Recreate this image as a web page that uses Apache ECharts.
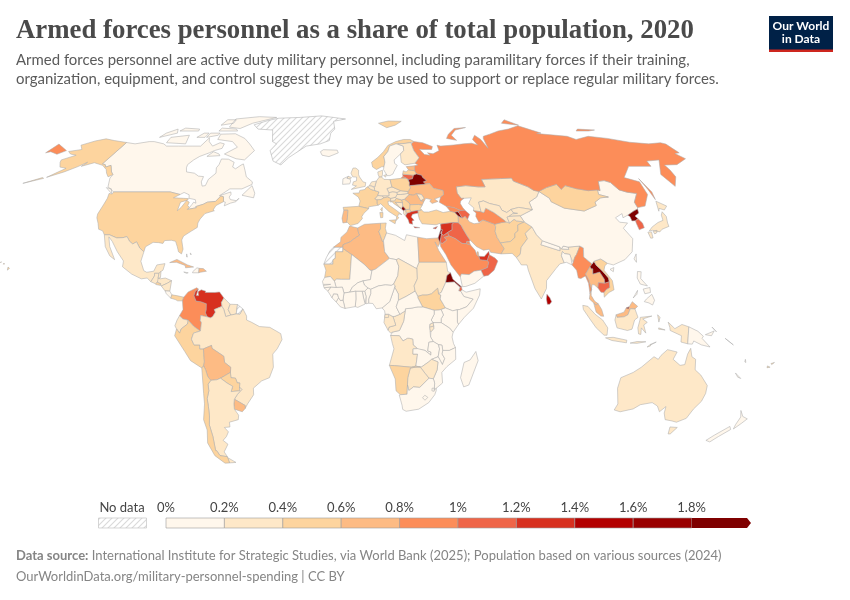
<!DOCTYPE html>
<html>
<head>
<meta charset="utf-8">
<title>Armed forces personnel as a share of total population, 2020</title>
<script src="https://cdn.jsdelivr.net/npm/echarts@6/dist/echarts.min.js"></script>
<style>
  html, body { margin: 0; padding: 0; background: #fff; }
  #chart { width: 850px; height: 600px; }
</style>
</head>
<body>
<div id="chart"></div>
<script>
'use strict';

// share of population in armed forces, %
const countries = [
  'Canada','USA','Mexico','Guatemala','Belize','El Salvador','Honduras','Nicaragua','Costa Rica','Panama',
  'Cuba','Jamaica','Haiti','Dominican Rep.','Bahamas',
  'Colombia','Venezuela','Guyana','Suriname','Ecuador','Peru','Brazil','Bolivia','Paraguay','Uruguay','Argentina','Chile',
  'Morocco','Mauritania','Algeria','Tunisia','Libya','Egypt','Mali','Niger','Chad','Sudan','South Sudan','Eritrea','Djibouti',
  'Ethiopia','Somalia','Kenya','Uganda','Tanzania','Rwanda','Burundi','DR Congo','Congo','Gabon','Eq. Guinea','Cameroon','CAR',
  'Nigeria','Benin','Togo','Ghana','Burkina Faso','Ivory Coast','Liberia','Sierra Leone','Guinea','Guinea-Bissau','Senegal','Gambia',
  'Angola','Zambia','Malawi','Mozambique','Zimbabwe','Botswana','Namibia','South Africa','Lesotho','Eswatini','Madagascar',
  'Turkey','Syria','Lebanon','Israel','Jordan','Iraq','Kuwait','Saudi Arabia','Qatar','UAE','Oman','Yemen','Iran',
  'Afghanistan','Pakistan','India','Nepal','Bhutan','Bangladesh','Sri Lanka','Myanmar','Thailand','Laos','Vietnam','Cambodia',
  'Malaysia','Brunei','Indonesia','Timor-Leste','Papua New Guinea','Philippines','Taiwan','China','Mongolia',
  'Kazakhstan','Turkmenistan','Uzbekistan','Kyrgyzstan','Tajikistan','Russia','Ukraine','Moldova','Romania','Bulgaria','Greece',
  'Albania','North Macedonia','Serbia','Montenegro','Bosnia','Croatia','Slovenia','Hungary','Slovakia','Czechia','Austria','Switzerland',
  'Italy','France','Spain','Portugal','UK','Ireland','Iceland','Norway','Sweden','Finland','Denmark','Germany','Netherlands','Belgium',
  'Poland','Lithuania','Latvia','Estonia','Belarus','Georgia','Armenia','Azerbaijan','Cyprus','North Korea','South Korea','Japan',
  'Australia','New Zealand','New Caledonia','Solomon Islands','Vanuatu','Fiji'
];
const shareValues = [
  0.18,0.42,0.27,0.25,0.3,0.5,0.3,0.22,0.15,0.5,
  0.7,0.12,0.1,0.6,0.15,
  0.9,1.3,0.3,0.28,0.25,0.5,0.33,0.7,0.45,0.7,0.25,0.45,
  0.68,0.5,0.75,0.55,0.12,0.72,0.1,0.1,0.28,0.3,0.5,1.95,1.1,
  0.12,0.1,0.06,0.1,0.06,0.25,0.25,0.15,0.25,0.3,0.25,0.1,0.05,
  0.06,0.08,0.15,0.05,0.05,0.1,0.05,0.12,0.1,0.15,0.1,0.05,
  0.3,0.1,0.05,0.04,0.3,0.3,0.5,0.12,0.1,0.1,0.08,
  0.55,1.3,1.9,1.9,1.1,1.15,0.9,0.9,0.7,1.2,1.1,0.15,0.75,
  0.5,0.45,0.25,0.15,0.15,0.15,1.5,0.9,0.7,1.9,0.52,1.1,
  0.65,1.7,0.25,0.15,0.05,0.15,0.15,0.14,0.45,
  0.3,0.9,0.25,0.3,0.25,0.95,0.65,0.2,0.65,0.5,1.3,
  0.3,0.4,0.45,1.9,0.3,0.4,0.35,0.35,0.3,0.25,0.28,0.3,
  0.55,0.5,0.5,0.65,0.22,0.18,0.15,0.45,0.15,0.38,0.3,0.25,0.25,0.3,
  0.5,1.05,0.42,0.7,1.9,0.9,1.9,1.1,1.35,1.95,1.1,0.2,
  0.25,0.15,0.1,0.1,0.1,0.45
];

// colour bins of the legend
const binLower = [0, 0.2, 0.4, 0.6, 0.8, 1, 1.2, 1.4, 1.6, 1.8];
const binUpper = [0.2, 0.4, 0.6, 0.8, 1, 1.2, 1.4, 1.6, 1.8, 2];
const binColors = ['#fff7ec','#fee8c8','#fdd49e','#fdbb84','#fc8d59','#ef6548','#d7301f','#b30000','#990000','#7f0000'];

// simplified country outlines, lon,lat
const outlines = {
  'Canada': ['-141,69.6 -135,69 -128,70 -125,70 -118,69 -115,68 -108,68 -100,68 -95,68 -94,71.8 -92,70 -88,68 -85,69.5 -82,69 -81.5,67 -85,66 -87,65 -91,63.5 -93,62 -94.5,60 -94,58.7 -92.5,57 -88,56.5 -85,55.3 -82.2,55.1 -82,53 -80.5,51.3 -79,51.5 -79,54 -76.7,56.5 -78,58.7 -77.5,60 -78,62.4 -74,62.3 -70,61 -69.5,59 -67.5,58.3 -65.5,59.8 -64.5,60.3 -62,57.5 -60,55 -56,53 -55.7,52 -60,50.2 -66,50.2 -70,47.5 -65,49 -64.5,48 -65,47 -64,46 -61,45.6 -60,46.5 -61,45.2 -63.5,44.6 -66,43.6 -66,45 -67,45.2 -67.8,47.1 -69.2,47.4 -70.9,45.3 -74.7,45 -76.3,44.2 -79.5,43.3 -79,42.85 -83,42.2 -82.3,43 -81.7,44.1 -81.3,45 -80,44.6 -81,46 -84.3,46.5 -85,47.9 -88,48.8 -89.5,48 -95,49 -123,49 -125,50 -127.5,51 -130,54.5 -130,55.9 -132,57 -135.5,59.7 -137.5,59 -139,60 -141,60.3',
    '-62,66 -65,62 -70,62.5 -78,64.5 -73,67.5 -78,70 -88,71 -89,73.5 -80,73.7 -72,71.5 -67,69',
    '-105,69 -117,69.5 -118,72 -108,73','-125,72 -117,74 -120,76 -124,74','-62,82.5 -75,83 -90,81.5 -88,77 -80,76.3 -75,79',
    '-80,75 -92,75 -92,76.5 -82,76','-90,73 -96,72 -96,74 -90,74','-59,47.7 -53,46.7 -53,48.5 -55.5,51.5','-123.5,48.4 -128,50.7 -125,50.2',
    '-80,63.8 -87,63.5 -85,65.5 -81,64.5','-88,79 -95,78 -95,81 -89,81','-105,75 -117,75 -116,76.5 -106,76','-97,72 -102,72 -100,74 -97,74'],
  'USA': ['-123,49 -95,49 -89.5,48 -92,46.7 -87,46.5 -84.5,46.4 -84.7,45.8 -87.6,45 -87.5,41.7 -86.3,43 -85,45.7 -83.4,45 -83.5,43.7 -82.5,43 -83,42.2 -79,42.85 -79.5,43.3 -76.3,44.2 -74.7,45 -70.9,45.3 -69.2,47.4 -67.8,47.1 -67,45.2 -70,43.7 -70.7,42 -70,41.7 -74,40.6 -75.5,38.5 -76,37 -75.7,35.3 -78,33.9 -81,32 -81.4,30.5 -80,27 -80.3,25.2 -81.8,26 -82.8,28 -84,30 -86,30.4 -89,30.3 -89.5,29.2 -91.5,29.5 -94,29.6 -97,27.9 -97.2,26 -99.5,27.5 -101.5,29.8 -103,29 -104.7,30 -106.5,31.8 -108.2,31.4 -111,31.3 -114.8,32.5 -117.1,32.5 -118.5,34 -120.6,34.6 -122,36.8 -123.8,39 -124.3,40.4 -124,44 -124,46.5 -124.7,48.4 -123,48.2',
    '-141,69.6 -141,60.3 -139,60 -137.5,59 -135.5,59.7 -132,57 -130,55.9 -131.5,55 -134,56.5 -136,58 -140,59.7 -146,60.8 -151,59.3 -150,61 -153,59 -157,57 -163,54.8 -158,58.5 -162,59 -165,61 -166,62 -161,64 -165,64.5 -168,65.6 -162,66.5 -166,68.4 -161,70.3 -156.5,71.3 -150,70.5',
    '-164,54.4 -172,52.4 -165,54.7','-155.8,19 -155,19.7 -155.8,20.2','-159.7,22 -159.3,22.2 -159.4,21.8','-158,21.7 -157.7,21.3 -158.2,21.3'],
  'Mexico': ['-117.1,32.5 -114.8,32.5 -111,31.3 -108.2,31.4 -106.5,31.8 -104.7,30 -103,29 -101.5,29.8 -99.5,27.5 -97.2,26 -97.8,22.4 -95.9,18.8 -94.5,18.2 -91.5,18.6 -90.5,21 -87,21.5 -87.5,19 -88.3,18.5 -89.1,17.8 -91,17.8 -90.9,16.8 -92.2,14.6 -94,16 -96.5,15.7 -101,17.5 -105.5,20.3 -105.5,22.5 -109,26 -112.5,30 -114.7,31.7 -113,28 -109.5,23 -112,24.5 -115,28'],
  'Guatemala': ['-92.2,14.6 -90.9,16.8 -91,17.8 -89.1,17.8 -89.2,15.9 -88.3,15.7 -89.3,14.4 -90.1,13.8'],
  'Belize': ['-89.1,17.8 -88.3,18.5 -88.2,16.2 -89.2,15.9'],
  'El Salvador': ['-90.1,13.8 -89.3,14.4 -87.8,13.9 -87.8,13.2 -89.8,13.5'],
  'Honduras': ['-89.2,15.9 -88.3,15.7 -86,16 -83.2,15 -85,14 -87.3,13 -87.8,13.4 -87.8,13.9 -89.3,14.4'],
  'Nicaragua': ['-83.2,15 -83.6,11 -85.7,11.1 -87.5,13 -85,14'],
  'Costa Rica': ['-85.7,11.1 -83.6,11 -82.6,9.6 -83,8.3 -85,10'],
  'Panama': ['-83,8.3 -82.6,9.6 -80,9.2 -77.4,8.7 -77.9,7.3 -80,7.3 -81,7.8'],
  'Cuba': ['-85,21.9 -82,23.1 -77,21 -74.2,20.2 -77.7,19.9 -78,20.8 -82,22'],
  'Jamaica': ['-78.3,18.3 -76.3,18 -77,17.8'],
  'Haiti': ['-74.4,18.4 -72.7,19.9 -71.7,19.7 -71.7,18 -74.4,18'],
  'Dominican Rep.': ['-71.7,19.7 -69.9,19.6 -68.4,18.6 -71,18.2 -71.7,18'],
  'Bahamas': ['-78,25.2 -77.5,24 -77.9,24.1','-76.5,25.5 -76,24.8 -76.2,25.4'],
  'Colombia': ['-77.4,8.7 -75.6,10.7 -72,12.3 -71.3,11.8 -72.5,11 -73,9.2 -72,7.2 -70,7 -67.5,6.2 -67.5,3.8 -67.8,2.8 -67,1.2 -69.8,1.7 -70,-0.2 -69.5,-1 -70,-4.2 -70.7,-3.8 -72.9,-2.4 -75.2,-0.1 -77.5,0.4 -79,1.6 -77.5,4 -77.9,7.3'],
  'Venezuela': ['-71.3,11.8 -71.6,10.8 -72,9.3 -71,9.3 -71.3,10.8 -70,11.5 -68,11 -68.2,10.5 -64,10.5 -62,10.7 -60,8.4 -61,6.7 -60.7,5.2 -64,4 -63.5,3 -64.7,1.2 -65.7,0.8 -67,1.2 -67.8,2.8 -67.5,3.8 -67.5,6.2 -70,7 -72,7.2 -73,9.2 -72.5,11'],
  'Guyana': ['-60,8.4 -57.2,6 -58,4 -56.8,1.9 -59,1.3 -59.9,4 -60.7,5.2 -61,6.7'],
  'Suriname': ['-57.2,6 -54,5.9 -54.5,2.3 -56.8,1.9 -58,4'],
  'French Guiana': ['-54,5.9 -51.6,4.2 -52.9,2.2 -54.5,2.3'],
  'Ecuador': ['-79,1.6 -77.5,0.4 -75.2,-0.1 -75.5,-1.5 -78.3,-3.4 -79,-5 -80.3,-3.4 -81,-2.2 -80,0'],
  'Peru': ['-80.3,-3.4 -79,-5 -78.3,-3.4 -75.5,-1.5 -75.2,-0.1 -72.9,-2.4 -70.7,-3.8 -70,-4.2 -73,-5 -74,-7.3 -73,-9.5 -70.5,-9.5 -70.6,-11 -69,-11 -69,-16 -69.5,-17.5 -70.4,-18.3 -75,-15.5 -77.2,-12 -81.2,-6'],
  'Brazil': ['-60.7,5.2 -59.9,4 -59,1.3 -56.8,1.9 -54.5,2.3 -52.9,2.2 -51.6,4.2 -50,1.5 -50,0 -48,-0.8 -44.5,-2.5 -40,-2.8 -35.3,-5.2 -34.8,-7.5 -37,-11 -39,-13 -39,-18 -41,-22 -44.5,-23.2 -48.5,-26 -48.7,-28.5 -52,-32 -53.4,-33.7 -53.2,-32.6 -57.6,-30.2 -55.9,-28.3 -53.7,-26.5 -54.6,-25.6 -54.3,-24 -55.4,-24 -56,-22.2 -58,-22 -58,-20 -57.7,-18 -60.2,-16.2 -60.4,-13.8 -65.3,-10.8 -65.4,-9.7 -69,-11 -70.6,-11 -70.5,-9.5 -73,-9.5 -74,-7.3 -73,-5 -70,-4.2 -69.5,-1 -70,-0.2 -69.8,1.7 -67,1.2 -65.7,0.8 -64.7,1.2 -63.5,3 -64,4'],
  'Bolivia': ['-69,-11 -65.4,-9.7 -65.3,-10.8 -60.4,-13.8 -60.2,-16.2 -57.7,-18 -58,-20 -62.6,-22.2 -64.3,-22.8 -67,-23 -68.2,-21.5 -68.8,-19 -69.5,-17.5 -69,-16'],
  'Paraguay': ['-58,-20 -58,-22 -56,-22.2 -55.4,-24 -54.3,-24 -54.6,-25.6 -54.7,-27 -58.6,-27.3 -57.6,-25.3 -60,-24 -62.6,-22.2'],
  'Uruguay': ['-57.6,-30.2 -53.2,-32.6 -53.4,-33.7 -55,-35 -58.4,-34 -58.2,-32'],
  'Argentina': ['-67,-23 -64.3,-22.8 -62.6,-22.2 -60,-24 -57.6,-25.3 -58.6,-27.3 -54.7,-27 -54.6,-25.6 -53.7,-26.5 -55.9,-28.3 -57.6,-30.2 -58.2,-32 -58.4,-34 -57,-36.3 -57.6,-38 -62,-39 -62.3,-40.8 -65,-41 -63.7,-42.7 -65.3,-44.5 -67.5,-46 -65.8,-47.5 -69,-50.5 -68.4,-52.4 -71.9,-52 -72.5,-50 -73,-50 -71.8,-44.5 -71.7,-40 -70.5,-36.5 -70,-33 -69.8,-30 -68.5,-27 -68.4,-24.5','-68.6,-52.7 -65.2,-54.7 -68.6,-54.9'],
  'Chile': ['-69.5,-17.5 -68.8,-19 -68.2,-21.5 -67,-23 -68.4,-24.5 -68.5,-27 -69.8,-30 -70,-33 -70.5,-36.5 -71.7,-40 -71.8,-44.5 -73,-50 -72.5,-50 -71.9,-52 -68.4,-52.4 -68.6,-52.7 -68.6,-54.9 -71,-55 -74.5,-52 -75.5,-47 -73.5,-42 -73.7,-38 -71.5,-32 -71,-28 -70.4,-18.3'],
  'Morocco': ['-5.9,35.8 -2.2,35.1 -1.7,33 -1.2,32.4 -3.7,31 -5.5,29.8 -8.7,28.7 -8.7,27.7 -13,27.7 -9.8,29.8 -9.7,31.5 -7,33.6'],
  'W. Sahara': ['-13,27.7 -8.7,27.7 -8.7,26 -12,26 -12,23.5 -13,23 -13,21.3 -17,21.3 -16,23.7 -14.5,26.3'],
  'Mauritania': ['-17,21.3 -13,21.3 -13,23 -12,23.5 -12,26 -8.7,26 -8.7,27.3 -4.8,25 -5.5,15.5 -9.3,15.5 -11.4,15.6 -12.2,14.8 -14,16.6 -16.5,16.2 -16,19'],
  'Algeria': ['-2.2,35.1 1,36.5 8.4,36.9 8.3,34.7 7.5,33.8 9,30 9.5,30.2 9.9,26 12,23.5 5.8,19.4 4.2,18.9 3.3,19 1.1,21 -4.8,25 -8.7,27.3 -8.7,28.7 -5.5,29.8 -3.7,31 -1.2,32.4 -1.7,33'],
  'Tunisia': ['8.4,36.9 11,37 10.5,35 11,33.2 9.5,30.2 9,30 7.5,33.8 8.3,34.7'],
  'Libya': ['11,33.2 15,32.3 19,30.3 20,32.5 25,31.6 25,22 24,20 24,19.5 16,23.4 15,23 12,23.5 9.9,26 9.5,30.2'],
  'Egypt': ['25,31.6 29,31 34.2,31.3 34.9,29.5 33.8,27.9 32.6,29.8 34,26.5 37,22 25,22'],
  'Mali': ['-8.7,12.5 -8,10.3 -5.5,10.6 -4.4,12.5 -2,14.2 0.2,14.9 3.5,15.4 4.2,18.9 3.3,19 1.1,21 -4.8,25 -5.5,15.5 -9.3,15.5 -11.4,15.6 -12.2,14.8 -11.4,12.4'],
  'Niger': ['12,23.5 15,23 16,20.5 15.5,16.9 13.6,13.7 12.6,13.2 10,13.4 7,13 3.6,11.7 2.4,12.2 0.9,13.3 0.2,14.9 3.5,15.4 4.2,18.9 5.8,19.4'],
  'Chad': ['15,23 16,23.4 24,19.5 24,15.7 22.5,13 22.9,11 19,9 15.6,7.5 15.6,9.9 14,12.5 13.6,13.7 15.5,16.9 16,20.5'],
  'Sudan': ['25,22 37,22 37.4,18.5 38.6,18 37,17 36.3,14.3 34.2,10.5 33,10 32.7,12.1 30,10 28,9.5 26,9.5 24,9 22.9,11 22.5,13 24,15.7 24,19.5 24,20'],
  'South Sudan': ['24,9 26,9.5 28,9.5 30,10 32.7,12.1 33,10 34,9.5 33.7,8 35,6 35.9,4.6 34,4 33,3.8 31,3.7 28,4.5 26,5 24,8.5'],
  'Eritrea': ['38.6,18 39.5,15.5 43.1,12.7 42.4,12.5 40,14.5 37,14.3 36.3,14.3 37,17'],
  'Djibouti': ['43.1,12.7 43.3,11.5 42.7,11 41.8,11.1 42.4,12.5'],
  'Ethiopia': ['36.3,14.3 37,14.3 40,14.5 42.4,12.5 41.8,11.1 42.7,11 44,9 48,8 45,5 42,4 41,3.9 39,3.5 35.9,4.6 35,6 33.7,8 34,9.5 33,10 34.2,10.5'],
  'Somalia': ['42.7,11 43.3,11.5 45,10.6 51.2,11.9 50.8,9.5 48,4.5 44,1 41.5,-1.7 41,-0.8 41,3.9 42,4 45,5 48,8 44,9'],
  'Kenya': ['35.9,4.6 39,3.5 41,3.9 41,-0.8 41.5,-1.7 39.2,-4.7 37.7,-3.1 34,-1 34,0.5 35,1.9 34,4'],
  'Uganda': ['31,3.7 33,3.8 34,4 35,1.9 34,0.5 34,-1 30.5,-1 29.7,0 31,2.2'],
  'Tanzania': ['34,-1 37.7,-3.1 39.2,-4.7 38.8,-6.5 39.5,-9 40.4,-10.5 37.8,-11.6 34.9,-11.6 34.5,-9.6 33,-9.4 30.7,-8.2 29.5,-6.5 29.6,-4.5 30.8,-3.3 30.8,-2.3 30.5,-1'],
  'Rwanda': ['30.5,-1 30.8,-2.3 29,-2.8 29.1,-1.6'],
  'Burundi': ['29,-2.8 30.8,-2.3 30.8,-3.3 29.6,-4.5 29.2,-4'],
  'DR Congo': ['12.2,-5.9 13,-4.6 16,-4 17.8,-0.5 18.5,3.5 18.6,4.3 21,4.5 24,5 26,5 28,4.5 31,3.7 31,2.2 29.7,0 30.5,-1 29.1,-1.6 29,-2.8 29.2,-4 29.5,-6.5 30.7,-8.2 28.8,-8.5 28.4,-11.8 29.8,-12.2 29.8,-13.4 27.2,-11.6 24.3,-11.2 23.9,-10.9 22,-9.5 21.8,-7.3 20.3,-7 19.5,-7 17.6,-8 16,-6'],
  'Congo': ['11.1,-3.9 12.2,-5 13,-4.6 16,-4 17.8,-0.5 18.5,3.5 16.2,2.2 14,1.4 13.2,1.3 14.4,-2 11.5,-2.7'],
  'Gabon': ['9.3,-1 11.1,-3.9 11.5,-2.7 14.4,-2 13.2,1.3 11.3,2.2 9.8,2.2 9.6,0.9'],
  'Eq. Guinea': ['9.6,0.9 9.8,2.2 11.3,2.2 11.3,1'],
  'Cameroon': ['8.5,4.6 9.6,3.5 9.8,2.2 11.3,2.2 13.2,1.3 14,1.4 16.2,2.2 14.6,5 15.6,7.5 15.6,9.9 14,12.5 14.2,13 13.6,11.4 11.8,7'],
  'CAR': ['14.6,5 16.2,2.2 18.5,3.5 18.6,4.3 21,4.5 24,5 26,5 24,8.5 24,9 22.9,11 19,9 15.6,7.5'],
  'Nigeria': ['2.7,6.4 4.5,6.3 6,4.3 8.5,4.6 11.8,7 13.6,11.4 14.2,13 13.6,13.7 12.6,13.2 10,13.4 7,13 3.6,11.7 3.6,10 2.7,8'],
  'Benin': ['1.6,6.2 2.7,6.4 2.7,8 3.6,10 3.6,11.7 2.4,12.2 1,11 1.6,9'],
  'Togo': ['1.2,6.1 1.6,6.2 1.6,9 1,11 -0.1,11 0.6,8'],
  'Ghana': ['-3.1,5.1 -2,4.8 1.2,6.1 0.6,8 -0.1,11 -2.9,11 -2.8,8'],
  'Burkina Faso': ['-5.5,10.6 -2.9,11 -0.1,11 1,11 2.4,12.2 0.9,13.3 0.2,14.9 -2,14.2 -4.4,12.5'],
  'Ivory Coast': ['-7.5,4.4 -3.1,5.1 -2.8,8 -2.9,11 -5.5,10.6 -8,10.3 -8.4,7.6'],
  'Liberia': ['-11.4,6.9 -9.5,5 -7.5,4.4 -8.4,7.6 -9.5,7.4 -10.3,8.5'],
  'Sierra Leone': ['-13.2,8.5 -11.4,6.9 -10.3,8.5 -10.8,9.9 -12.5,10'],
  'Guinea': ['-15,11 -13.2,8.5 -12.5,10 -10.8,9.9 -10.3,8.5 -9.5,7.4 -8.4,7.6 -8,10.3 -8.7,12.5 -11.4,12.4 -13.7,12.6'],
  'Guinea-Bissau': ['-16.7,12.3 -15,11 -13.7,12.6'],
  'Senegal': ['-17.4,14.7 -16.7,12.3 -13.7,12.6 -11.4,12.4 -12.2,14.8 -14,16.6 -16.5,16.2'],
  'Gambia': ['-16.8,13.6 -13.8,13.6 -13.8,13.3 -16.8,13.2'],
  'Angola': ['12.2,-5.9 16,-6 17.6,-8 19.5,-7 20.3,-7 21.8,-7.3 22,-9.5 23.9,-10.9 22,-11 22,-13 24,-13 23.4,-17.6 21.4,-18 14,-17.4 11.8,-17.3 13.7,-11 13,-9'],
  'Zambia': ['24,-13 22,-13 22,-11 23.9,-10.9 24.3,-11.2 27.2,-11.6 29.8,-13.4 29.8,-12.2 28.4,-11.8 28.8,-8.5 30.7,-8.2 33,-9.4 33.5,-11 33,-14 30.2,-15 28.9,-16 25.9,-17.9 25.3,-17.9 23.4,-17.6'],
  'Malawi': ['33,-9.4 34.5,-9.6 34.9,-11.6 34.7,-13 35.9,-14.7 35,-17 34,-15.5 33,-14 33.5,-11'],
  'Mozambique': ['34.9,-11.6 37.8,-11.6 40.4,-10.5 40.7,-15 37,-17.8 34.9,-20 35.5,-24 32.9,-26 32,-26.8 32,-24 31.3,-22.4 32.8,-19 33,-16 30.2,-15 33,-14 34,-15.5 35,-17 35.9,-14.7 34.7,-13'],
  'Zimbabwe': ['25.9,-17.9 28.9,-16 30.2,-15 33,-16 32.8,-19 31.3,-22.4 29.4,-22.2 27.7,-20.5 25.3,-17.9'],
  'Botswana': ['21,-18.3 20,-22 20,-24.8 20.7,-26.9 22.7,-25.5 25.5,-25.7 29.4,-22.2 27.7,-20.5 25.3,-17.9 23.4,-18'],
  'Namibia': ['11.8,-17.3 14,-17.4 21.4,-18 23.4,-17.6 25.3,-17.9 23.4,-18 21,-18.3 20,-22 20,-28.3 17,-28.5 15,-27 14.5,-22.5'],
  'South Africa': ['16.5,-28.6 17,-28.5 20,-28.3 20,-24.8 20.7,-26.9 22.7,-25.5 25.5,-25.7 29.4,-22.2 31.3,-22.4 32,-24 32,-26.8 32.9,-26 32.9,-27 32.4,-28.5 30,-31.5 25.7,-34 20,-34.8 18.4,-34.1 18,-32.5'],
  'Lesotho': ['27,-29.6 28,-28.7 29.4,-29.5 28.2,-30.6'],
  'Eswatini': ['31,-26 32,-26 32,-27.2 31,-27'],
  'Madagascar': ['49.3,-12 50.5,-15.5 47.2,-24.8 45,-25.5 43.3,-22 44.4,-16.2 47,-15.2'],
  'Turkey': ['26.2,40 26.2,41.8 28,42 29,41.2 31.3,41.2 35,42 38,41 41.5,41.5 43.5,41.1 44.8,39.7 44.4,37.1 42.3,37.2 38,36.8 36.2,36.6 36,35.9 35.9,36.9 34,36.3 30.6,36.5 27.5,36.7 26.5,38.5'],
  'Syria': ['36,35.9 36.2,36.6 38,36.8 42.3,37.2 41.3,36.4 41,34.4 38.8,33.4 36.9,32.3 35.9,32.7 36.5,34.4 35.9,34.6'],
  'Lebanon': ['35.9,34.6 36.5,34.4 35.6,33.1 35.1,33.1'],
  'Israel': ['35.1,33.1 35.6,33.1 35.9,32.7 35.5,31.5 34.9,29.5 34.2,31.3'],
  'Jordan': ['35.9,32.7 36.9,32.3 38.8,33.4 39.2,32.1 37,31.5 38,30.5 36,29.2 34.9,29.5 35.5,31.5'],
  'Iraq': ['42.3,37.2 44.4,37.1 45.5,36 46,34.8 47.5,32 48.5,30.5 48,29.9 47,30 46.6,29.1 44.7,29.2 42,31 39.2,32.1 38.8,33.4 41,34.4 41.3,36.4'],
  'Kuwait': ['48,29.9 48.4,28.6 46.6,29.1 47,30'],
  'Saudi Arabia': ['34.9,29.5 36,29.2 38,30.5 37,31.5 39.2,32.1 42,31 44.7,29.2 46.6,29.1 48.4,28.6 50.2,26.6 50.8,24.8 51.6,24.3 52,23 55.2,22.7 55.7,22 55,20 52,19 49,18.6 46.7,17.3 43.3,17.5 42.8,16.4 39,21 37,25 35,28'],
  'Qatar': ['50.8,24.8 51.6,24.3 51.5,26 51,26'],
  'UAE': ['51.6,24.3 54,24.2 56.3,26.2 56.3,24.9 55.8,24 55.2,22.7 52,23'],
  'Oman': ['55.2,22.7 55.8,24 56.3,24.9 58.7,23.6 59.8,22.5 57.8,19 55,17 53,16.7 52,19 55,20 55.7,22'],
  'Yemen': ['43.3,17.5 46.7,17.3 49,18.6 52,19 53,16.7 49,14 45,12.8 43.5,12.7 42.8,16.4'],
  'Iran': ['44.8,39.7 46.5,38.9 48,39.6 48.9,38.4 49.5,37.5 51.5,36.7 54,37 53.9,37.3 56,38.2 61,36.5 61.2,35.6 60.5,33.7 60.9,31.5 62,29.4 63.3,27.2 61.6,25.2 57,25.8 56.5,27 54,26.6 51,28 48.5,30.5 47.5,32 46,34.8 45.5,36 44.4,37.1'],
  'Afghanistan': ['61.2,35.6 61,36.5 64.5,37.2 66.5,37.4 68,37 70.5,38.4 71.5,37.8 74.9,37.4 71.5,36.2 71,34 69.3,33 69,31.5 66.5,29.9 62,29.4 60.9,31.5 60.5,33.7'],
  'Pakistan': ['61.6,25.2 63.3,27.2 62,29.4 66.5,29.9 69,31.5 69.3,33 71,34 71.5,36.2 74.9,37.4 77.8,35.5 74,33 74.5,31 71,27.8 70,25 68.2,23.8 66.5,25.4'],
  'India': ['68.2,23.8 70,25 71,27.8 74.5,31 74,33 77.8,35.5 79,32.5 81,30.2 80,28.7 88,26.4 88.2,27.9 88.8,27.1 92,26.9 92,27.8 97.3,28.2 95,25 94,23.9 93,22 92.3,23.6 92,25 89.8,25.3 89,26.1 88.2,24.5 89,21.8 87,21.4 85,19.6 80.3,15 80,12 77.5,8 75,12 72.8,19 72.5,21 70,21'],
  'Nepal': ['81,30.2 88.2,27.9 88,26.4 80,28.7'],
  'Bhutan': ['88.8,27.1 89.8,28.2 92,27.8 92,26.9'],
  'Bangladesh': ['89,26.1 89.8,25.3 92,25 92.3,23.6 92.3,21 90,22 89,21.8 88.2,24.5'],
  'Sri Lanka': ['80,9.8 81.2,8.5 81.9,7 81,6 80,6 79.7,8'],
  'Myanmar': ['92.3,21 93,22 94,23.9 95,25 97.3,28.2 98.7,27.5 98,24 101.2,21.4 100.1,20.3 97.7,17.5 98.7,15.5 99.6,11.7 98.7,10 98.5,14 97.5,16.8 95.4,15.8 94.3,16 94,19'],
  'Thailand': ['100.1,20.3 100.5,19.5 101.2,19.5 100.9,17.5 104,18.3 105.6,15.5 105.6,14 102.8,14.2 102.4,12.2 100.9,13.4 100,13.5 99.3,11 99.2,9.3 100.5,7.2 102,6.2 101,5.7 100.1,6.5 98.3,8 98.7,10 99.6,11.7 98.7,15.5 97.7,17.5'],
  'Laos': ['100.1,20.3 101.2,21.4 102.2,22.4 103,20.8 105,19 107.5,16 107.6,14.6 105.6,14 105.6,15.5 104,18.3 100.9,17.5 101.2,19.5 100.5,19.5'],
  'Vietnam': ['102.2,22.4 103,20.8 105,19 107.5,16 107.6,14.6 107.5,12.4 105.9,11.6 104.8,10.5 104.8,8.7 107,10.5 109.3,11.5 109,15 106,19 106.7,20.7 108,21.6 106.7,22.5 105.3,23.3'],
  'Cambodia': ['102.4,12.2 102.8,14.2 105.6,14 107.6,14.6 107.5,12.4 105.9,11.6 104.8,10.5 103.5,10.6'],
  'Malaysia': ['100.1,6.5 101,5.7 102,6.2 103.4,4 104.2,1.4 103,1.5 101,3 100.3,5.5','109.6,2 111.3,2.5 113,3 114,4.6 115.3,5 115.5,5.1 116.8,7 119,5.2 117.8,4.2 115.8,4.3 114.7,2 113,1.2 110,1'],
  'Brunei': ['114,4.6 115.3,5 115,4.2'],
  'Indonesia': ['95.3,5.6 97.5,5.2 100.5,2.2 103.7,0 106,-3 105.8,-5.8 104.5,-5.8 101,-3 98.5,0 95.5,4','105.2,-6.8 108.5,-6.6 114.5,-7.7 114.4,-8.7 108,-7.8','109.6,2 110,1 113,1.2 114.7,2 115.8,4.3 117.8,4.2 119,1 117.5,0 116.5,-3.5 114.5,-4 110,-3 109,0','120,1 125,1.5 121,0.4 123,-0.9 121.5,-1.9 122.5,-5 120.5,-3 120.4,-5.5 119.4,-5.3 119,-3 119.8,0','132,-0.8 135,-3.3 138,-1.7 141,-2.6 141,-9.1 138,-8.4 138,-6 133,-4 132.8,-2.8','127.5,2 128.5,1 128,-0.8','123.5,-10.3 125,-9.2 124.9,-9.9','116,-8.8 119,-8.2 122.8,-8.3 119,-8.9','128,-3 130.8,-3.8 128,-3.5'],
  'Timor-Leste': ['125,-9.2 127.3,-8.4 125,-9.5'],
  'Papua New Guinea': ['141,-2.6 145,-4.3 147.5,-6.2 147,-7 150.8,-10.3 147,-9.5 143.5,-8 143,-9.2 141,-9.1','148.3,-5.6 152,-4.2 151,-6','151,-2.7 153,-4.5 152.5,-4'],
  'Philippines': ['120.6,18.5 122.2,18.4 121.5,15.8 124,13 121,13.7 120,16','123,8 125.5,9.8 126.5,7.5 125.5,5.7 124,6.5 122,7','122,11.8 125,12.4 125,10.5 122.5,10','117.3,8.4 119.5,11.3 119,9.8'],
  'Taiwan': ['121.5,25.2 120.9,22 120.1,23.3'],
  'China': ['73.8,39.7 80.5,42.1 80.3,45 85,47 87.3,49.2 91,46.5 91,45.2 96,42.7 104.8,41.6 111.8,43.7 112,45 116,46.7 120,47 116,48 116.7,49.8 117.8,49.5 120.2,53.2 123.5,53.5 126,52.7 127.5,49.8 130.7,48.9 135,48.4 131,45 131,42.9 130.6,42.4 128,41.5 124.3,40 121.5,39 122,40.6 118,39 119,37.3 122.5,37 119.5,35 122,31 120,26 116,23 110.5,21 108,21.6 106.7,22.5 105.3,23.3 102.2,22.4 101.2,21.4 98,24 98.7,27.5 97.3,28.2 92,27.8 89.8,28.2 88.8,27.1 88.2,27.9 81,30.2 79,32.5 77.8,35.5 74.9,37.4','108.7,19.3 110.5,20 110,18.4'],
  'Mongolia': ['87.3,49.2 92,50.7 98,52 98.9,50 102,51.5 106.5,50.3 112,49.5 116.7,49.8 116,48 120,47 116,46.7 112,45 111.8,43.7 104.8,41.6 96,42.7 91,45.2 91,46.5'],
  'Kazakhstan': ['46.7,48.5 47,51 52,51.5 58,51 61.5,51 61,54 71,54.3 76.8,54.5 77,53.3 83,51 85,49.6 87.3,49.2 85,47 80.3,45 80.5,42.1 74.5,43 70.5,42.2 68,41 66,41.9 65.5,43.6 61,44.5 58.5,45.5 56,45 56,41.3 52.5,41.7 53,42.8 51,44.5 53,46.7 49.4,46.5 48,46.5'],
  'Turkmenistan': ['52.5,41.7 56,41.3 57.2,41 58.6,42.7 60,42 61.9,41 66,38 66.5,37.4 64.5,37.2 61,36.5 56,38.2 53.9,37.3 53,39.5 53.5,40.8'],
  'Uzbekistan': ['56,45 58.5,45.5 61,44.5 65.5,43.6 66,41.9 68,41 70.5,42.2 71,41 73,40.7 70.5,40.5 68.5,39.5 67.5,39.2 68,37 66.5,37.4 66,38 61.9,41 60,42 58.6,42.7 57.2,41 56,41.3'],
  'Kyrgyzstan': ['70.5,42.2 74.5,43 80.5,42.1 73.8,39.7 70.5,39.6 68.5,39.5 70.5,40.5 73,40.7 71,41'],
  'Tajikistan': ['68,37 67.5,39.2 68.5,39.5 70.5,39.6 73.8,39.7 74.9,37.4 71.5,37.8 70.5,38.4'],
  'Russia': ['38.2,47.1 39.8,47.9 40,49.6 35.5,50.4 34,52.3 31.8,52.1 31,53 32.7,53.5 31,54.8 30.8,55.6 28.2,56.2 27.5,57.5 28,59.5 30,59.9 28.5,60.6 31.5,62.9 29.5,66 29,69 31,70 36,69.5 41,67.8 40,66.5 35,66.5 33,66.6 35,64.3 38,64 37,65 40,64.6 44,66 44,68.4 46,68 54,68.5 60,69 65,69.3 68,68.5 67,71 70,73 72,71 73,67 74,71.5 75,72.5 80,73.5 87,75 95,76 104,77.7 113,74 110,73.8 127,72.5 130,71 140,72.5 150,71.5 160,69.7 170,69 178,69.5 180,68.9 180,65 177,64.7 179,62.5 170,60 163,59.8 163,57.8 162,55 157,51.2 155.6,56 163.5,62 156,61.5 155,59.3 143,59.3 135,54.7 141,53 140,48 135,43.5 131.7,43 131,42.9 131,45 135,48.4 130.7,48.9 127.5,49.8 126,52.7 123.5,53.5 120.2,53.2 117.8,49.5 116.7,49.8 112,49.5 106.5,50.3 102,51.5 98.9,50 98,52 92,50.7 87.3,49.2 85,49.6 83,51 77,53.3 76.8,54.5 71,54.3 61,54 61.5,51 58,51 52,51.5 47,51 46.7,48.5 48,46.5 49.4,46.5 47.5,45.5 47,44.5 47.7,43 48.5,41.9 46.5,41.8 43.5,42.9 40,43.4 37,45',
    '-180,68.9 -170,66 -172.5,64.4 -178,65.5 -180,65','142,54.3 143,49 142,46 142,50','51.5,71.5 57,70.6 55.5,73 60,75.5 68,76.8 60,76.3 54,73.5','19.8,54.4 22.8,54.4 21,55.2','95,79 105,78 100,81','137,75 145,75 150,75.5 140,76'],
  'Ukraine': ['22.9,48 22.2,48.4 22.6,49.1 22.9,49.5 24,50.7 23.6,51.5 31.8,52.1 34,52.3 35.5,50.4 40,49.6 39.8,47.9 38.2,47.1 35,46.2 36.5,45.3 33.5,44.5 32.5,45.4 33.5,46 30.8,46.5 29.7,45.3 28.2,45.5 30,46.5 29,48 26.6,48.3 24.9,47.7'],
  'Moldova': ['26.6,48.3 29,48 30,46.5 28.2,45.5'],
  'Romania': ['20.3,46.1 22.9,48 24.9,47.7 26.6,48.3 28.2,45.5 29.7,45.3 28.6,43.8 27,44.1 22.7,44 22.5,44.7'],
  'Bulgaria': ['22.7,44 27,44.1 28.6,43.8 27.5,42.5 28,42 26.2,41.8 24,41.5 22.9,41.3 22.4,42.3'],
  'Greece': ['20.2,39.7 21,40.8 22.9,41.3 24,41.5 26.2,41.8 26.2,40.8 23.5,40.3 22.8,39.3 24,38 23,37.8 23.2,36.5 21.7,36.8 21.3,38.2','23.6,35.6 26.3,35.2 24,35.1'],
  'Albania': ['19.4,41.7 20.5,42.3 20.6,41 21,40.8 20.2,39.7 19.4,40.5'],
  'North Macedonia': ['20.6,41 20.5,42.1 22.4,42.3 22.9,41.3 21,40.8'],
  'Serbia': ['18.9,45.9 20.3,46.1 22.5,44.7 22.7,44 22.4,42.3 20.5,42.1 20.5,42.3 19.2,43.5 19.3,44.8'],
  'Montenegro': ['18.5,42.5 19.2,43.5 20.5,42.3 19.4,41.7'],
  'Bosnia': ['15.8,45 19.3,44.8 19.2,43.5 18.5,42.5 17.5,43.1'],
  'Croatia': ['13.6,45 13.6,45.5 15.5,45.5 16.5,46.5 18.9,45.9 19.3,44.8 15.8,45 17.5,43.1 18.5,42.5 15,44.5 14.3,45.2'],
  'Slovenia': ['13.6,45.5 13.7,46.5 16.1,46.9 16.5,46.5 15.5,45.5'],
  'Hungary': ['16.1,46.9 17,48 18.8,48 22.2,48.4 22.9,48 20.3,46.1 18.9,45.9 16.5,46.5'],
  'Slovakia': ['17,48 17,48.8 19,49.5 22.6,49.1 22.2,48.4 18.8,48'],
  'Czechia': ['12.2,50.3 14.8,51 19,49.5 17,48.8 15,49 13,48.7'],
  'Austria': ['9.6,47.5 13,47.5 13,48.7 15,49 17,48.8 17,48 16.1,46.9 13.7,46.5 12.2,47 10.4,46.7'],
  'Switzerland': ['6,46.3 7.5,47.6 9.6,47.5 10.4,46.7 9,46 7,45.9'],
  'Italy': ['7,45.9 9,46 10.4,46.7 12.2,47 13.7,46.5 13.6,45.5 12.3,45.3 12.5,44 16,41.9 18.5,40.2 17,40.5 16.5,39.5 17,39 15.7,38 16,39.5 12.5,41.4 10.5,43 8.8,44.4 7.5,43.8 7,44.5','12.5,38 15.6,38.2 15.1,36.7','8.2,41 9.7,41 9.5,39.1 8.5,39'],
  'France': ['-1.7,43.4 3,42.5 3,43.2 4.5,43.4 7.5,43.8 7,44.5 7,45.9 6,46.3 7.5,47.6 8.2,49 6.2,49.5 4.2,50 2.6,51 1.6,50.5 1.4,50 -1.3,49.6 -1.6,48.6 -4.7,48.5 -2,47 -1.1,45.5','8.6,42.3 9.5,43 9.3,41.4'],
  'Spain': ['-9.2,43 -1.7,43.4 3,42.5 0.7,40.7 -0.3,39.4 0,38.7 -2,36.8 -5.5,36 -6.9,37.2 -7.4,37.2 -7,39 -6.9,41.9 -8.8,41.9'],
  'Portugal': ['-8.8,41.9 -6.9,41.9 -7,39 -7.4,37.2 -9,37 -9.5,38.8'],
  'UK': ['-5.5,50 1.4,51.2 1.7,52.7 0.3,53 -1.5,55 -2,56 -2,57.7 -3.5,58.6 -5,58.6 -6,56.5 -5,55 -3,54.9 -3,53.4 -4.6,53 -5,51.7 -3,51.4','-5.6,54.7 -7.3,55.2 -8,54.4 -6.3,54.1'],
  'Ireland': ['-6.3,54.1 -8,54.4 -7.3,55.2 -10,54.2 -10,52 -6.4,52.2 -6,53.3'],
  'Iceland': ['-22.5,66.4 -14.5,66.2 -13.7,65 -18.7,63.4 -22.7,64 -24,65.5'],
  'Norway': ['5,61 5.5,59 7.5,58 10.5,59.2 11.5,59 12.3,61 12,63.5 14.5,65.5 16,68 20,69 21,69 25.5,69.2 29,69.6 31,70 29,71 25,71 20,70 15,68.3 12,65.5 8.5,63','11,79 16,76.7 22,78 27,80 18,80.2'],
  'Sweden': ['11.2,58 11.5,59 12.3,61 12,63.5 14.5,65.5 16,68 20,69 24,68 23.7,66 21.5,64.5 17.5,62 17.5,60.5 18.8,59.7 16.5,57 16,56.2 14.3,55.5 12.8,55.5'],
  'Finland': ['21,69 25.5,69.2 29,69.6 29,69 29.5,66 31.5,62.9 28.5,60.6 23,59.9 21.2,61 21.5,64.5 23.7,66 24,68'],
  'Denmark': ['8.1,57 10.6,57.7 10.5,56 10,54.9 8.7,54.9 8.2,56','11,55.5 12.6,56 12,54.9'],
  'Germany': ['6.2,51 7.1,53.3 8.7,54.9 10,54.9 11,54 14.2,53.9 14.8,51 12.2,50.3 13,48.7 13,47.5 9.6,47.5 7.5,47.6 8.2,49 6.2,49.5 6,50 6,50.7'],
  'Netherlands': ['3.4,51.4 4.7,53 7.1,53.3 6.2,51 6,50.7 4.3,51.4'],
  'Belgium': ['2.6,51 3.4,51.4 4.3,51.4 6,50.7 6,50 6.2,49.5 4.2,50'],
  'Poland': ['14.2,53.9 19.8,54.4 22.8,54.4 23.9,52.7 23.6,51.5 24,50.7 22.9,49.5 22.6,49.1 19,49.5 14.8,51'],
  'Lithuania': ['21,55.2 22.8,54.4 23.5,53.9 25.7,54.2 26.6,55.7 21,56.1'],
  'Latvia': ['21,56.1 26.6,55.7 28.2,56.2 27.5,57.5 24.4,57.9 23,57 21.6,57.5'],
  'Estonia': ['23.5,59.2 28,59.5 27.5,57.5 24.4,57.9'],
  'Belarus': ['23.9,52.7 23.5,53.9 25.7,54.2 26.6,55.7 28.2,56.2 30.8,55.6 31,54.8 32.7,53.5 31,53 31.8,52.1 23.6,51.5'],
  'Georgia': ['40,43.4 43.5,42.9 46.5,41.8 45,41.3 43.5,41.1 41.5,41.5'],
  'Armenia': ['43.5,41.1 45,41.3 45.5,40.8 46.5,38.9 44.8,39.7'],
  'Azerbaijan': ['45,41.3 46.5,41.8 48.5,41.9 50.3,40.3 48.9,38.4 48,39.6 46.5,38.9 45.5,40.8'],
  'Cyprus': ['32.3,35 34.5,35.7 33.5,34.7'],
  'North Korea': ['130.6,42.4 130,40.8 127.5,39.7 128.3,38.6 126.7,37.9 125,37.8 125,39.5 124.3,40 128,41.5'],
  'South Korea': ['126.7,37.9 128.3,38.6 129.4,37 129.2,35.2 126.5,34.4 126.5,37'],
  'Japan': ['130.9,34 133,35.5 136.7,37.2 139.5,38 140,40 141.4,41.3 142,39.5 141,37 140.8,35.7 137,34.6 135.5,33.6 132.5,34.2','130,33.5 131.7,33.6 131.3,31.3 130.2,31.2','132.5,33.8 134.5,34.2 134,33.3 132.8,32.8','140,41.5 141.7,45.4 145.3,43.5 143,42 141,42.6'],
  'Australia': ['114,-22 113.5,-26 115.7,-32 115,-34.3 118,-35 123.5,-33.9 126,-32.3 131,-31.5 134,-32.8 136,-35 138,-33 138.5,-35.5 140.5,-38 144,-38.5 146.4,-39 150,-37.5 151,-34 153,-31 153.5,-28 153,-25 149,-21 146,-19 145.3,-15 143.5,-14 142.5,-10.8 141.5,-13 141,-17 139,-17.3 135.5,-15 136.8,-12.2 132.5,-11.3 130,-13.5 129,-15 127,-14 122.2,-18 119,-20','144.7,-40.8 148.3,-41 147,-43.5 146,-43.5'],
  'New Zealand': ['172.7,-40.6 174.2,-41.8 171,-44.5 169,-46.6 166.5,-46 168.5,-44','173,-34.5 175.6,-36.8 178.4,-37.7 177,-39.5 175.3,-41.6 174.7,-39.8 174.8,-37'],
  'New Caledonia': ['164,-20.2 167,-22.3 165.5,-21.8'],
  'Solomon Islands': ['157,-7 160.8,-9.5 159,-8.3'],
  'Vanuatu': ['167,-15 167.5,-16.2 167,-16'],
  'Fiji': ['177.3,-17.5 178.6,-18 177.3,-18.2','178.6,-16.6 180,-16.2 179,-17'],
  'Greenland': ['-73,78.2 -68,76 -58,75.5 -54,70 -51,69 -53,66 -49,61.5 -44,59.9 -41,63 -33,68 -25,69 -20,70.5 -20,74 -18,76 -20,80 -12,81.5 -30,83.5 -45,82.5 -60,82 -66,80.5']
};

// Robinson projection table, every 5 degrees of latitude
const robinsonLen = [1,.9986,.9954,.99,.9822,.973,.96,.9427,.9216,.8962,.8679,.835,.7986,.7597,.7186,.6732,.6213,.5722,.5322];
const robinsonDepth = [0,.062,.124,.186,.248,.31,.372,.434,.4958,.5571,.6176,.6769,.7346,.7903,.8435,.8936,.9394,.9761,1];
const mapScale = 156.4;
const mapX0 = 362.4;
const mapY0 = 320;

function lookup(table, lat) {
  const a = Math.min(Math.abs(lat), 89.999) / 5;
  const i = Math.floor(a);
  return table[i] + (table[i + 1] - table[i]) * (a - i);
}

const robinson = {
  project: function (p) {
    const x = 0.8487 * lookup(robinsonLen, p[1]) * p[0] * Math.PI / 180;
    const y = 1.3523 * lookup(robinsonDepth, p[1]) * (p[1] < 0 ? -1 : 1);
    return [mapX0 + mapScale * x, mapY0 - mapScale * y];
  },
  unproject: function (p) {
    const d = (mapY0 - p[1]) / mapScale / 1.3523;
    let lat = 0;
    for (let i = 0; i < 18; i++) {
      if (Math.abs(d) >= robinsonDepth[i]) {
        lat = (i + (Math.abs(d) - robinsonDepth[i]) / (robinsonDepth[i + 1] - robinsonDepth[i])) * 5;
      }
    }
    lat = d < 0 ? -lat : lat;
    const lon = (p[0] - mapX0) / mapScale / 0.8487 / lookup(robinsonLen, lat) * 180 / Math.PI;
    return [lon, lat];
  }
};

function makeFeatures() {
  return Object.keys(outlines).map(name => ({
    type: 'Feature',
    properties: { name: name },
    geometry: {
      type: 'MultiPolygon',
      coordinates: outlines[name].map(ring => [ring.split(' ').map(pt => pt.split(',').map(Number))])
    }
  }));
}

// the map box has to be the projected extent so pixels stay as projected
function mapBounds(features) {
  let x0 = Infinity, y0 = Infinity, x1 = -Infinity, y1 = -Infinity;
  features.forEach(f => f.geometry.coordinates.forEach(poly => poly[0].forEach(pt => {
    const p = robinson.project(pt);
    x0 = Math.min(x0, p[0]); x1 = Math.max(x1, p[0]);
    y0 = Math.min(y0, p[1]); y1 = Math.max(y1, p[1]);
  })));
  return { left: x0, top: y0, width: x1 - x0, height: y1 - y0 };
}

function hatchPattern() {
  const c = document.createElement('canvas');
  c.width = 6;
  c.height = 6;
  const g = c.getContext('2d');
  g.fillStyle = '#fff';
  g.fillRect(0, 0, 6, 6);
  g.strokeStyle = '#d9d9d9';
  g.lineWidth = 1.1;
  [[-1, 1, 1, -1], [0, 6, 6, 0], [5, 7, 7, 5]].forEach(l => {
    g.beginPath();
    g.moveTo(l[0], l[1]);
    g.lineTo(l[2], l[3]);
    g.stroke();
  });
  return { image: c, repeat: 'repeat' };
}

const features = makeFeatures();
const box = mapBounds(features);
const hatch = hatchPattern();
echarts.registerMap('world', { type: 'FeatureCollection', features: features });

const textFont = 'Lato, "Noto Sans", sans-serif';
const chart = echarts.init(document.getElementById('chart'), null, { renderer: 'canvas' });

chart.setOption({
  animation: false,
  backgroundColor: '#fff',
  title: [
    {
      text: 'Armed forces personnel as a share of total population, 2020',
      left: 16, top: 18, padding: 0,
      textStyle: { fontFamily: '"Liberation Serif", serif', fontWeight: 'bold', fontSize: 26.8, color: '#4a4a4a' }
    },
    {
      text: 'Armed forces personnel are active duty military personnel, including paramilitary forces if their training,\norganization, equipment, and control suggest they may be used to support or replace regular military forces.',
      left: 16, top: 51, padding: 0,
      textStyle: { fontFamily: textFont, fontWeight: 'normal', fontSize: 14.95, lineHeight: 19, color: '#5b5b5b' }
    }
  ],
  grid: { left: 166, width: 584, top: 518, height: 10 },
  xAxis: {
    type: 'value', position: 'top', min: 0, max: 2, interval: 0.2,
    splitLine: { show: false }, axisLine: { show: false }, axisTick: { show: false },
    axisLabel: {
      margin: 4, fontFamily: textFont, fontSize: 13, color: '#444',
      showMaxLabel: false,
      formatter: v => +v.toFixed(1) + '%'
    }
  },
  yAxis: { type: 'category', data: ['bins'], show: false },
  visualMap: {
    show: false, type: 'piecewise', seriesIndex: 0, dimension: 0,
    pieces: binColors.map((c, i) => ({ gte: binLower[i], lt: binUpper[i], color: c }))
  },
  series: [
    {
      type: 'map', map: 'world', projection: robinson, roam: false, silent: true,
      left: box.left, top: box.top, width: box.width, height: box.height,
      label: { show: false },
      itemStyle: { areaColor: hatch, borderColor: '#adadad', borderWidth: 0.55 },
      data: countries.map((n, i) => ({ name: n, value: shareValues[i] }))
    },
    {
      type: 'custom', silent: true, coordinateSystem: 'cartesian2d',
      data: binColors.map((c, i) => [binLower[i], binUpper[i], 'bins']),
      renderItem: function (params, api) {
        const a = api.coord([api.value(0), 'bins']);
        const b = api.coord([api.value(1), 'bins']);
        const style = { fill: binColors[params.dataIndex], stroke: '#9c9c9c', lineWidth: 0.6 };
        if (params.dataIndex === binColors.length - 1) {
          return {
            type: 'polygon',
            shape: { points: [[a[0], a[1] - 5], [b[0] - 3, a[1] - 5], [b[0] + 1, a[1]], [b[0] - 3, a[1] + 5], [a[0], a[1] + 5]] },
            style: { fill: binColors[params.dataIndex], stroke: 'none' }
          };
        }
        return { type: 'rect', shape: { x: a[0], y: a[1] - 5, width: b[0] - a[0], height: 10 }, style: style };
      }
    }
  ],
  graphic: [
    { type: 'rect', shape: { x: 98.5, y: 518, width: 48, height: 10 }, style: { fill: hatch, stroke: '#c4c4c4', lineWidth: 0.7 } },
    { type: 'text', x: 122, y: 501, style: { text: 'No data', align: 'center', fontFamily: textFont, fontSize: 13, fill: '#444' } },
    { type: 'rect', shape: { x: 769, y: 16, width: 64, height: 36 }, style: { fill: '#002147' } },
    { type: 'rect', shape: { x: 769, y: 49.5, width: 64, height: 2.5 }, style: { fill: '#ce261e' } },
    { type: 'text', x: 801, y: 19, style: { text: 'Our World\nin Data', align: 'center', fontFamily: textFont, fontWeight: 'bold', fontSize: 12, lineHeight: 13.5, fill: '#fff' } },
    {
      type: 'text', x: 16, y: 549,
      style: {
        rich: {
          b: { fontFamily: textFont, fontWeight: 'bold', fontSize: 13, fill: '#858585' },
          n: { fontFamily: textFont, fontSize: 13, fill: '#858585' }
        },
        text: '{b|Data source:} {n|International Institute for Strategic Studies, via World Bank (2025); Population based on various sources (2024)}'
      }
    },
    { type: 'text', x: 16, y: 570, style: { text: 'OurWorldinData.org/military-personnel-spending | CC BY', fontFamily: textFont, fontSize: 13, fill: '#858585' } }
  ]
});
</script>
</body>
</html>
